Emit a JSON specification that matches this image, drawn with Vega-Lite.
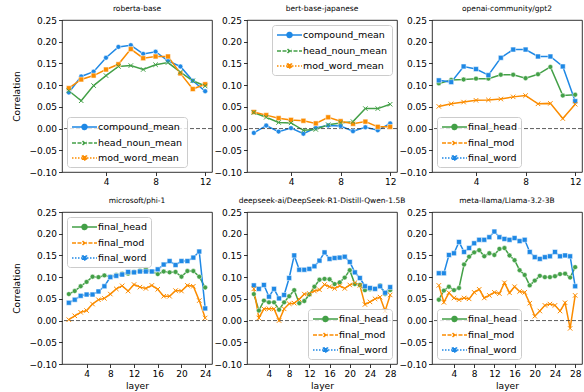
{
"$schema": "https://vega.github.io/schema/vega-lite/v6.json",
"padding": {"left": 12, "top": 4, "right": 2, "bottom": 0},
"background": "white",
"config": {
  "font": "DejaVu Sans",
  "view": {"stroke": "#000", "strokeWidth": 0.8},
  "axis": {"grid": false, "domain": false, "tickColor": "#000", "tickSize": 3.5, "tickWidth": 0.8, "labelFontSize": 9, "labelColor": "#000", "labelFont": "DejaVu Sans", "titleFont": "DejaVu Sans", "titleFontSize": 9.2, "titleFontWeight": "normal", "titleColor": "#000", "labelPadding": 2, "labelOverlap": false, "labelSeparation": -50, "labelFlush": false, "labelBound": false},
  "axisY": {"titlePadding": 7},
  "axisX": {"titlePadding": 3},
  "title": {"fontSize": 7.5, "fontWeight": "normal", "font": "DejaVu Sans", "offset": 4, "color": "#000", "frame": "group", "anchor": "middle"},
  "legend": {"title": null, "labelFontSize": 9.5, "labelFont": "DejaVu Sans", "labelColor": "#000", "fillColor": "rgba(255,255,255,0.8)", "strokeColor": "#cccccc", "cornerRadius": 3, "padding": 4, "offset": 5, "rowPadding": 4, "symbolSize": 100, "labelOffset": 15, "symbolStrokeWidth": 1.5, "symbolOpacity": 1,
    "symbolType": "circle"}
},
"columns": 3,
"spacing": {"row": 40, "column": 35},
"bounds": "flush",
"resolve": {"scale": {"color": "independent", "strokeDash": "independent", "shape": "independent"}, "legend": {"color": "independent"}},
"datasets": {
"roberta": [
{"s":"compound_mean","l":1,"v":0.083},{"s":"compound_mean","l":2,"v":0.120},{"s":"compound_mean","l":3,"v":0.131},{"s":"compound_mean","l":4,"v":0.163},{"s":"compound_mean","l":5,"v":0.188},{"s":"compound_mean","l":6,"v":0.192},{"s":"compound_mean","l":7,"v":0.172},{"s":"compound_mean","l":8,"v":0.177},{"s":"compound_mean","l":9,"v":0.156},{"s":"compound_mean","l":10,"v":0.143},{"s":"compound_mean","l":11,"v":0.110},{"s":"compound_mean","l":12,"v":0.086},
{"s":"head_noun_mean","l":1,"v":0.087},{"s":"head_noun_mean","l":2,"v":0.064},{"s":"head_noun_mean","l":3,"v":0.099},{"s":"head_noun_mean","l":4,"v":0.122},{"s":"head_noun_mean","l":5,"v":0.143},{"s":"head_noun_mean","l":6,"v":0.145},{"s":"head_noun_mean","l":7,"v":0.136},{"s":"head_noun_mean","l":8,"v":0.147},{"s":"head_noun_mean","l":9,"v":0.152},{"s":"head_noun_mean","l":10,"v":0.130},{"s":"head_noun_mean","l":11,"v":0.110},{"s":"head_noun_mean","l":12,"v":0.098},
{"s":"mod_word_mean","l":1,"v":0.093},{"s":"mod_word_mean","l":2,"v":0.113},{"s":"mod_word_mean","l":3,"v":0.122},{"s":"mod_word_mean","l":4,"v":0.136},{"s":"mod_word_mean","l":5,"v":0.148},{"s":"mod_word_mean","l":6,"v":0.183},{"s":"mod_word_mean","l":7,"v":0.162},{"s":"mod_word_mean","l":8,"v":0.166},{"s":"mod_word_mean","l":9,"v":0.166},{"s":"mod_word_mean","l":10,"v":0.127},{"s":"mod_word_mean","l":11,"v":0.091},{"s":"mod_word_mean","l":12,"v":0.102}
],
"bert": [
{"s":"compound_mean","l":1,"v":-0.010},{"s":"compound_mean","l":2,"v":0.007},{"s":"compound_mean","l":3,"v":-0.007},{"s":"compound_mean","l":4,"v":0.001},{"s":"compound_mean","l":5,"v":-0.012},{"s":"compound_mean","l":6,"v":0.002},{"s":"compound_mean","l":7,"v":0.007},{"s":"compound_mean","l":8,"v":0.006},{"s":"compound_mean","l":9,"v":-0.006},{"s":"compound_mean","l":10,"v":0.003},{"s":"compound_mean","l":11,"v":-0.004},{"s":"compound_mean","l":12,"v":0.012},
{"s":"head_noun_mean","l":1,"v":0.037},{"s":"head_noun_mean","l":2,"v":0.026},{"s":"head_noun_mean","l":3,"v":0.014},{"s":"head_noun_mean","l":4,"v":0.013},{"s":"head_noun_mean","l":5,"v":-0.004},{"s":"head_noun_mean","l":6,"v":-0.002},{"s":"head_noun_mean","l":7,"v":0.009},{"s":"head_noun_mean","l":8,"v":0.013},{"s":"head_noun_mean","l":9,"v":0.016},{"s":"head_noun_mean","l":10,"v":0.046},{"s":"head_noun_mean","l":11,"v":0.046},{"s":"head_noun_mean","l":12,"v":0.056},
{"s":"mod_word_mean","l":1,"v":0.038},{"s":"mod_word_mean","l":2,"v":0.031},{"s":"mod_word_mean","l":3,"v":0.024},{"s":"mod_word_mean","l":4,"v":0.020},{"s":"mod_word_mean","l":5,"v":0.018},{"s":"mod_word_mean","l":6,"v":0.012},{"s":"mod_word_mean","l":7,"v":0.026},{"s":"mod_word_mean","l":8,"v":0.017},{"s":"mod_word_mean","l":9,"v":0.011},{"s":"mod_word_mean","l":10,"v":0.016},{"s":"mod_word_mean","l":11,"v":0.004},{"s":"mod_word_mean","l":12,"v":0.004}
],
"gpt2": [
{"s":"final_head","l":1,"v":0.104},{"s":"final_head","l":2,"v":0.112},{"s":"final_head","l":3,"v":0.113},{"s":"final_head","l":4,"v":0.115},{"s":"final_head","l":5,"v":0.115},{"s":"final_head","l":6,"v":0.124},{"s":"final_head","l":7,"v":0.124},{"s":"final_head","l":8,"v":0.116},{"s":"final_head","l":9,"v":0.125},{"s":"final_head","l":10,"v":0.142},{"s":"final_head","l":11,"v":0.076},{"s":"final_head","l":12,"v":0.078},
{"s":"final_mod","l":1,"v":0.051},{"s":"final_mod","l":2,"v":0.057},{"s":"final_mod","l":3,"v":0.061},{"s":"final_mod","l":4,"v":0.065},{"s":"final_mod","l":5,"v":0.066},{"s":"final_mod","l":6,"v":0.068},{"s":"final_mod","l":7,"v":0.073},{"s":"final_mod","l":8,"v":0.076},{"s":"final_mod","l":9,"v":0.057},{"s":"final_mod","l":10,"v":0.058},{"s":"final_mod","l":11,"v":0.023},{"s":"final_mod","l":12,"v":0.056},
{"s":"final_word","l":1,"v":0.111},{"s":"final_word","l":2,"v":0.107},{"s":"final_word","l":3,"v":0.143},{"s":"final_word","l":4,"v":0.137},{"s":"final_word","l":5,"v":0.123},{"s":"final_word","l":6,"v":0.163},{"s":"final_word","l":7,"v":0.182},{"s":"final_word","l":8,"v":0.182},{"s":"final_word","l":9,"v":0.166},{"s":"final_word","l":10,"v":0.166},{"s":"final_word","l":11,"v":0.143},{"s":"final_word","l":12,"v":0.063}
],
"phi": [
{"s":"final_head","l":1,"v":0.061},{"s":"final_head","l":2,"v":0.068},{"s":"final_head","l":3,"v":0.079},{"s":"final_head","l":4,"v":0.089},{"s":"final_head","l":5,"v":0.101},{"s":"final_head","l":6,"v":0.100},{"s":"final_head","l":7,"v":0.104},{"s":"final_head","l":8,"v":0.101},{"s":"final_head","l":9,"v":0.105},{"s":"final_head","l":10,"v":0.108},{"s":"final_head","l":11,"v":0.108},{"s":"final_head","l":12,"v":0.112},{"s":"final_head","l":13,"v":0.115},{"s":"final_head","l":14,"v":0.119},{"s":"final_head","l":15,"v":0.113},{"s":"final_head","l":16,"v":0.107},{"s":"final_head","l":17,"v":0.113},{"s":"final_head","l":18,"v":0.111},{"s":"final_head","l":19,"v":0.112},{"s":"final_head","l":20,"v":0.101},{"s":"final_head","l":21,"v":0.114},{"s":"final_head","l":22,"v":0.114},{"s":"final_head","l":23,"v":0.101},{"s":"final_head","l":24,"v":0.076},
{"s":"final_mod","l":1,"v":0.002},{"s":"final_mod","l":2,"v":0.011},{"s":"final_mod","l":3,"v":0.019},{"s":"final_mod","l":4,"v":0.023},{"s":"final_mod","l":5,"v":0.038},{"s":"final_mod","l":6,"v":0.048},{"s":"final_mod","l":7,"v":0.051},{"s":"final_mod","l":8,"v":0.061},{"s":"final_mod","l":9,"v":0.073},{"s":"final_mod","l":10,"v":0.080},{"s":"final_mod","l":11,"v":0.068},{"s":"final_mod","l":12,"v":0.083},{"s":"final_mod","l":13,"v":0.077},{"s":"final_mod","l":14,"v":0.074},{"s":"final_mod","l":15,"v":0.081},{"s":"final_mod","l":16,"v":0.072},{"s":"final_mod","l":17,"v":0.056},{"s":"final_mod","l":18,"v":0.056},{"s":"final_mod","l":19,"v":0.069},{"s":"final_mod","l":20,"v":0.068},{"s":"final_mod","l":21,"v":0.081},{"s":"final_mod","l":22,"v":0.079},{"s":"final_mod","l":23,"v":0.046},{"s":"final_mod","l":24,"v":0.006},
{"s":"final_word","l":1,"v":0.041},{"s":"final_word","l":2,"v":0.048},{"s":"final_word","l":3,"v":0.057},{"s":"final_word","l":4,"v":0.060},{"s":"final_word","l":5,"v":0.060},{"s":"final_word","l":6,"v":0.067},{"s":"final_word","l":7,"v":0.079},{"s":"final_word","l":8,"v":0.100},{"s":"final_word","l":9,"v":0.103},{"s":"final_word","l":10,"v":0.106},{"s":"final_word","l":11,"v":0.112},{"s":"final_word","l":12,"v":0.111},{"s":"final_word","l":13,"v":0.113},{"s":"final_word","l":14,"v":0.113},{"s":"final_word","l":15,"v":0.113},{"s":"final_word","l":16,"v":0.118},{"s":"final_word","l":17,"v":0.129},{"s":"final_word","l":18,"v":0.137},{"s":"final_word","l":19,"v":0.128},{"s":"final_word","l":20,"v":0.137},{"s":"final_word","l":21,"v":0.137},{"s":"final_word","l":22,"v":0.145},{"s":"final_word","l":23,"v":0.159},{"s":"final_word","l":24,"v":0.028}
],
"deepseek": [
{"s":"final_head","l":1,"v":0.061},{"s":"final_head","l":2,"v":0.023},{"s":"final_head","l":3,"v":0.046},{"s":"final_head","l":4,"v":0.042},{"s":"final_head","l":5,"v":0.042},{"s":"final_head","l":6,"v":0.025},{"s":"final_head","l":7,"v":0.042},{"s":"final_head","l":8,"v":0.056},{"s":"final_head","l":9,"v":0.070},{"s":"final_head","l":10,"v":0.040},{"s":"final_head","l":11,"v":0.045},{"s":"final_head","l":12,"v":0.060},{"s":"final_head","l":13,"v":0.078},{"s":"final_head","l":14,"v":0.094},{"s":"final_head","l":15,"v":0.096},{"s":"final_head","l":16,"v":0.095},{"s":"final_head","l":17,"v":0.084},{"s":"final_head","l":18,"v":0.088},{"s":"final_head","l":19,"v":0.099},{"s":"final_head","l":20,"v":0.116},{"s":"final_head","l":21,"v":0.084},{"s":"final_head","l":22,"v":0.082},{"s":"final_head","l":23,"v":0.070},{"s":"final_head","l":24,"v":0.072},{"s":"final_head","l":25,"v":0.073},{"s":"final_head","l":26,"v":0.081},{"s":"final_head","l":27,"v":0.061},{"s":"final_head","l":28,"v":0.070},
{"s":"final_mod","l":1,"v":0.073},{"s":"final_mod","l":2,"v":0.006},{"s":"final_mod","l":3,"v":0.027},{"s":"final_mod","l":4,"v":0.027},{"s":"final_mod","l":5,"v":0.027},{"s":"final_mod","l":6,"v":0.000},{"s":"final_mod","l":7,"v":0.027},{"s":"final_mod","l":8,"v":0.039},{"s":"final_mod","l":9,"v":0.040},{"s":"final_mod","l":10,"v":0.049},{"s":"final_mod","l":11,"v":0.061},{"s":"final_mod","l":12,"v":0.062},{"s":"final_mod","l":13,"v":0.068},{"s":"final_mod","l":14,"v":0.071},{"s":"final_mod","l":15,"v":0.083},{"s":"final_mod","l":16,"v":0.078},{"s":"final_mod","l":17,"v":0.074},{"s":"final_mod","l":18,"v":0.080},{"s":"final_mod","l":19,"v":0.074},{"s":"final_mod","l":20,"v":0.082},{"s":"final_mod","l":21,"v":0.087},{"s":"final_mod","l":22,"v":0.081},{"s":"final_mod","l":23,"v":0.037},{"s":"final_mod","l":24,"v":0.043},{"s":"final_mod","l":25,"v":0.050},{"s":"final_mod","l":26,"v":0.054},{"s":"final_mod","l":27,"v":0.022},{"s":"final_mod","l":28,"v":0.059},
{"s":"final_word","l":1,"v":0.081},{"s":"final_word","l":2,"v":0.073},{"s":"final_word","l":3,"v":0.082},{"s":"final_word","l":4,"v":0.055},{"s":"final_word","l":5,"v":0.073},{"s":"final_word","l":6,"v":0.051},{"s":"final_word","l":7,"v":0.059},{"s":"final_word","l":8,"v":0.098},{"s":"final_word","l":9,"v":0.150},{"s":"final_word","l":10,"v":0.117},{"s":"final_word","l":11,"v":0.117},{"s":"final_word","l":12,"v":0.119},{"s":"final_word","l":13,"v":0.125},{"s":"final_word","l":14,"v":0.138},{"s":"final_word","l":15,"v":0.157},{"s":"final_word","l":16,"v":0.142},{"s":"final_word","l":17,"v":0.144},{"s":"final_word","l":18,"v":0.145},{"s":"final_word","l":19,"v":0.147},{"s":"final_word","l":20,"v":0.135},{"s":"final_word","l":21,"v":0.111},{"s":"final_word","l":22,"v":0.098},{"s":"final_word","l":23,"v":0.079},{"s":"final_word","l":24,"v":0.075},{"s":"final_word","l":25,"v":0.073},{"s":"final_word","l":26,"v":0.079},{"s":"final_word","l":27,"v":0.064},{"s":"final_word","l":28,"v":0.077}
],
"llama": [
{"s":"final_head","l":1,"v":0.048},{"s":"final_head","l":2,"v":0.069},{"s":"final_head","l":3,"v":0.078},{"s":"final_head","l":4,"v":0.070},{"s":"final_head","l":5,"v":0.075},{"s":"final_head","l":6,"v":0.129},{"s":"final_head","l":7,"v":0.147},{"s":"final_head","l":8,"v":0.157},{"s":"final_head","l":9,"v":0.162},{"s":"final_head","l":10,"v":0.148},{"s":"final_head","l":11,"v":0.155},{"s":"final_head","l":12,"v":0.151},{"s":"final_head","l":13,"v":0.165},{"s":"final_head","l":14,"v":0.167},{"s":"final_head","l":15,"v":0.150},{"s":"final_head","l":16,"v":0.139},{"s":"final_head","l":17,"v":0.116},{"s":"final_head","l":18,"v":0.105},{"s":"final_head","l":19,"v":0.081},{"s":"final_head","l":20,"v":0.092},{"s":"final_head","l":21,"v":0.103},{"s":"final_head","l":22,"v":0.100},{"s":"final_head","l":23,"v":0.100},{"s":"final_head","l":24,"v":0.102},{"s":"final_head","l":25,"v":0.107},{"s":"final_head","l":26,"v":0.108},{"s":"final_head","l":27,"v":0.099},{"s":"final_head","l":28,"v":0.123},
{"s":"final_mod","l":1,"v":0.081},{"s":"final_mod","l":2,"v":0.042},{"s":"final_mod","l":3,"v":0.064},{"s":"final_mod","l":4,"v":0.052},{"s":"final_mod","l":5,"v":0.048},{"s":"final_mod","l":6,"v":0.052},{"s":"final_mod","l":7,"v":0.050},{"s":"final_mod","l":8,"v":0.065},{"s":"final_mod","l":9,"v":0.072},{"s":"final_mod","l":10,"v":0.052},{"s":"final_mod","l":11,"v":0.058},{"s":"final_mod","l":12,"v":0.065},{"s":"final_mod","l":13,"v":0.062},{"s":"final_mod","l":14,"v":0.087},{"s":"final_mod","l":15,"v":0.064},{"s":"final_mod","l":16,"v":0.078},{"s":"final_mod","l":17,"v":0.067},{"s":"final_mod","l":18,"v":0.065},{"s":"final_mod","l":19,"v":0.040},{"s":"final_mod","l":20,"v":0.010},{"s":"final_mod","l":21,"v":0.022},{"s":"final_mod","l":22,"v":0.035},{"s":"final_mod","l":23,"v":0.038},{"s":"final_mod","l":24,"v":0.035},{"s":"final_mod","l":25,"v":0.022},{"s":"final_mod","l":26,"v":0.041},{"s":"final_mod","l":27,"v":-0.018},{"s":"final_mod","l":28,"v":0.058},
{"s":"final_word","l":1,"v":0.109},{"s":"final_word","l":2,"v":0.109},{"s":"final_word","l":3,"v":0.151},{"s":"final_word","l":4,"v":0.155},{"s":"final_word","l":5,"v":0.181},{"s":"final_word","l":6,"v":0.158},{"s":"final_word","l":7,"v":0.167},{"s":"final_word","l":8,"v":0.178},{"s":"final_word","l":9,"v":0.186},{"s":"final_word","l":10,"v":0.186},{"s":"final_word","l":11,"v":0.192},{"s":"final_word","l":12,"v":0.205},{"s":"final_word","l":13,"v":0.192},{"s":"final_word","l":14,"v":0.188},{"s":"final_word","l":15,"v":0.186},{"s":"final_word","l":16,"v":0.190},{"s":"final_word","l":17,"v":0.183},{"s":"final_word","l":18,"v":0.186},{"s":"final_word","l":19,"v":0.158},{"s":"final_word","l":20,"v":0.146},{"s":"final_word","l":21,"v":0.142},{"s":"final_word","l":22,"v":0.146},{"s":"final_word","l":23,"v":0.148},{"s":"final_word","l":24,"v":0.158},{"s":"final_word","l":25,"v":0.148},{"s":"final_word","l":26,"v":0.150},{"s":"final_word","l":27,"v":0.148},{"s":"final_word","l":28,"v":0.079}
]
},
"concat": [
{"title": "roberta-base", "width": 150, "height": 152, "data": {"name": "roberta"},
 "layer": [
  {"mark": {"type": "line", "strokeWidth": 1.5},
   "encoding": {
    "x": {"field": "l", "type": "quantitative", "scale": {"domain": [0.45, 12.55], "nice": false, "zero": false}, "axis": {"values": [4, 8, 12], "tickCount": 3, "title": null, "labelOverlap": false}},
    "y": {"field": "v", "type": "quantitative", "scale": {"domain": [-0.1, 0.25], "nice": false, "zero": false}, "axis": {"values": [-0.1, -0.05, 0, 0.05, 0.1, 0.15, 0.2, 0.25], "tickCount": 8, "format": ".2f", "title": "Correlation", "labelOverlap": false}},
    "color": {"field": "s", "type": "nominal", "scale": {"domain": ["compound_mean", "head_noun_mean", "mod_word_mean"], "range": ["#1E88E5", "#43A047", "#FB8C00"]},
      "legend": {"orient": "bottom-left", "encode": {"symbols": {"update": {
        "shape": {"signal": "indexof(['compound_mean','final_head'], datum.value) >= 0 ? 'M-1,0L4,0M1,0A0.5,0.5,0,1,0,2,0A0.5,0.5,0,1,0,1,0Z' : (indexof(['head_noun_mean','final_mod'], datum.value) >= 0 ? 'M-1,0L4,0M1.1,-0.4L1.9,0.4M1.1,0.4L1.9,-0.4' : 'M-1,0L4,0M1.1,-0.4L1.9,-0.4L1.9,0.4L1.1,0.4Z')"},
        "stroke": {"signal": "{'compound_mean':'#1E88E5','head_noun_mean':'#43A047','mod_word_mean':'#FB8C00','final_head':'#43A047','final_mod':'#FB8C00','final_word':'#1E88E5'}[datum.value]"},
        "fill": {"signal": "indexof(['head_noun_mean','final_mod'], datum.value) >= 0 ? 'transparent' : {'compound_mean':'#1E88E5','mod_word_mean':'#FB8C00','final_head':'#43A047','final_word':'#1E88E5'}[datum.value]"},
        "strokeDash": {"signal": "indexof(['compound_mean','final_head'], datum.value) >= 0 ? [1,0] : (indexof(['head_noun_mean','final_mod'], datum.value) >= 0 ? [4,1.5] : [1.5,1.5])"},
        "size": {"value": 100}, "opacity": {"value": 1}, "strokeWidth": {"value": 1.5}}}}}}
   }},
  {"data": {"values": [{}]}, "mark": {"type": "rule", "color": "#333", "strokeDash": [4, 2], "strokeWidth": 0.8}, "encoding": {"y": {"datum": 0, "type": "quantitative", "axis": {"values": [-0.1, -0.05, 0, 0.05, 0.1, 0.15, 0.2, 0.25], "tickCount": 8, "format": ".2f", "title": "Correlation", "labelOverlap": false}}}},
  {"transform": [{"filter": "datum.s != 'head_noun_mean'"}], "mark": {"type": "point", "filled": true, "stroke": "white", "strokeWidth": 0.5, "size": 24, "opacity": 1},
   "encoding": {"x": {"field": "l", "type": "quantitative"}, "y": {"field": "v", "type": "quantitative"},
    "color": {"field": "s", "type": "nominal", "legend": null},
    "shape": {"field": "s", "type": "nominal", "scale": {"domain": ["compound_mean", "mod_word_mean"], "range": ["circle", "square"]}, "legend": null}}},
  {"transform": [{"filter": "datum.s == 'head_noun_mean'"}], "mark": {"type": "point", "shape": "M-1,-1L1,1M-1,1L1,-1", "filled": false, "strokeWidth": 1, "size": 20, "opacity": 1},
   "encoding": {"x": {"field": "l", "type": "quantitative"}, "y": {"field": "v", "type": "quantitative"}, "color": {"field": "s", "type": "nominal", "legend": null}}}
 ]},
{"title": "bert-base-japanese", "width": 150, "height": 152, "data": {"name": "bert"},
 "layer": [
  {"mark": {"type": "line", "strokeWidth": 1.5},
   "encoding": {
    "x": {"field": "l", "type": "quantitative", "scale": {"domain": [0.45, 12.55], "nice": false, "zero": false}, "axis": {"values": [4, 8, 12], "tickCount": 3, "title": null, "labelOverlap": false}},
    "y": {"field": "v", "type": "quantitative", "scale": {"domain": [-0.1, 0.25], "nice": false, "zero": false}, "axis": {"values": [-0.1, -0.05, 0, 0.05, 0.1, 0.15, 0.2, 0.25], "tickCount": 8, "format": ".2f", "title": null, "labelOverlap": false}},
    "color": {"field": "s", "type": "nominal", "scale": {"domain": ["compound_mean", "head_noun_mean", "mod_word_mean"], "range": ["#1E88E5", "#43A047", "#FB8C00"]},
      "legend": {"orient": "top-right", "encode": {"symbols": {"update": {
        "shape": {"signal": "indexof(['compound_mean','final_head'], datum.value) >= 0 ? 'M-1,0L4,0M1,0A0.5,0.5,0,1,0,2,0A0.5,0.5,0,1,0,1,0Z' : (indexof(['head_noun_mean','final_mod'], datum.value) >= 0 ? 'M-1,0L4,0M1.1,-0.4L1.9,0.4M1.1,0.4L1.9,-0.4' : 'M-1,0L4,0M1.1,-0.4L1.9,-0.4L1.9,0.4L1.1,0.4Z')"},
        "stroke": {"signal": "{'compound_mean':'#1E88E5','head_noun_mean':'#43A047','mod_word_mean':'#FB8C00','final_head':'#43A047','final_mod':'#FB8C00','final_word':'#1E88E5'}[datum.value]"},
        "fill": {"signal": "indexof(['head_noun_mean','final_mod'], datum.value) >= 0 ? 'transparent' : {'compound_mean':'#1E88E5','mod_word_mean':'#FB8C00','final_head':'#43A047','final_word':'#1E88E5'}[datum.value]"},
        "strokeDash": {"signal": "indexof(['compound_mean','final_head'], datum.value) >= 0 ? [1,0] : (indexof(['head_noun_mean','final_mod'], datum.value) >= 0 ? [4,1.5] : [1.5,1.5])"},
        "size": {"value": 100}, "opacity": {"value": 1}, "strokeWidth": {"value": 1.5}}}}}}
   }},
  {"data": {"values": [{}]}, "mark": {"type": "rule", "color": "#333", "strokeDash": [4, 2], "strokeWidth": 0.8}, "encoding": {"y": {"datum": 0, "type": "quantitative", "axis": {"values": [-0.1, -0.05, 0, 0.05, 0.1, 0.15, 0.2, 0.25], "tickCount": 8, "format": ".2f", "title": null, "labelOverlap": false}}}},
  {"transform": [{"filter": "datum.s != 'head_noun_mean'"}], "mark": {"type": "point", "filled": true, "stroke": "white", "strokeWidth": 0.5, "size": 24, "opacity": 1},
   "encoding": {"x": {"field": "l", "type": "quantitative"}, "y": {"field": "v", "type": "quantitative"},
    "color": {"field": "s", "type": "nominal", "legend": null},
    "shape": {"field": "s", "type": "nominal", "scale": {"domain": ["compound_mean", "mod_word_mean"], "range": ["circle", "square"]}, "legend": null}}},
  {"transform": [{"filter": "datum.s == 'head_noun_mean'"}], "mark": {"type": "point", "shape": "M-1,-1L1,1M-1,1L1,-1", "filled": false, "strokeWidth": 1, "size": 20, "opacity": 1},
   "encoding": {"x": {"field": "l", "type": "quantitative"}, "y": {"field": "v", "type": "quantitative"}, "color": {"field": "s", "type": "nominal", "legend": null}}}
 ]},
{"title": "openai-community/gpt2", "width": 150, "height": 152, "data": {"name": "gpt2"},
 "layer": [
  {"mark": {"type": "line", "strokeWidth": 1.5},
   "encoding": {
    "x": {"field": "l", "type": "quantitative", "scale": {"domain": [0.45, 12.55], "nice": false, "zero": false}, "axis": {"values": [4, 8, 12], "tickCount": 3, "title": null, "labelOverlap": false}},
    "y": {"field": "v", "type": "quantitative", "scale": {"domain": [-0.1, 0.25], "nice": false, "zero": false}, "axis": {"values": [-0.1, -0.05, 0, 0.05, 0.1, 0.15, 0.2, 0.25], "tickCount": 8, "format": ".2f", "title": null, "labelOverlap": false}},
    "color": {"field": "s", "type": "nominal", "scale": {"domain": ["final_head", "final_mod", "final_word"], "range": ["#43A047", "#FB8C00", "#1E88E5"]},
      "legend": {"orient": "bottom-left", "encode": {"symbols": {"update": {
        "shape": {"signal": "indexof(['compound_mean','final_head'], datum.value) >= 0 ? 'M-1,0L4,0M1,0A0.5,0.5,0,1,0,2,0A0.5,0.5,0,1,0,1,0Z' : (indexof(['head_noun_mean','final_mod'], datum.value) >= 0 ? 'M-1,0L4,0M1.1,-0.4L1.9,0.4M1.1,0.4L1.9,-0.4' : 'M-1,0L4,0M1.1,-0.4L1.9,-0.4L1.9,0.4L1.1,0.4Z')"},
        "stroke": {"signal": "{'compound_mean':'#1E88E5','head_noun_mean':'#43A047','mod_word_mean':'#FB8C00','final_head':'#43A047','final_mod':'#FB8C00','final_word':'#1E88E5'}[datum.value]"},
        "fill": {"signal": "indexof(['head_noun_mean','final_mod'], datum.value) >= 0 ? 'transparent' : {'compound_mean':'#1E88E5','mod_word_mean':'#FB8C00','final_head':'#43A047','final_word':'#1E88E5'}[datum.value]"},
        "strokeDash": {"signal": "indexof(['compound_mean','final_head'], datum.value) >= 0 ? [1,0] : (indexof(['head_noun_mean','final_mod'], datum.value) >= 0 ? [4,1.5] : [1.5,1.5])"},
        "size": {"value": 100}, "opacity": {"value": 1}, "strokeWidth": {"value": 1.5}}}}}}
   }},
  {"data": {"values": [{}]}, "mark": {"type": "rule", "color": "#333", "strokeDash": [4, 2], "strokeWidth": 0.8}, "encoding": {"y": {"datum": 0, "type": "quantitative", "axis": {"values": [-0.1, -0.05, 0, 0.05, 0.1, 0.15, 0.2, 0.25], "tickCount": 8, "format": ".2f", "title": null, "labelOverlap": false}}}},
  {"transform": [{"filter": "datum.s != 'final_mod'"}], "mark": {"type": "point", "filled": true, "stroke": "white", "strokeWidth": 0.5, "size": 24, "opacity": 1},
   "encoding": {"x": {"field": "l", "type": "quantitative"}, "y": {"field": "v", "type": "quantitative"},
    "color": {"field": "s", "type": "nominal", "legend": null},
    "shape": {"field": "s", "type": "nominal", "scale": {"domain": ["final_head", "final_word"], "range": ["circle", "square"]}, "legend": null}}},
  {"transform": [{"filter": "datum.s == 'final_mod'"}], "mark": {"type": "point", "shape": "M-1,-1L1,1M-1,1L1,-1", "filled": false, "strokeWidth": 1, "size": 20, "opacity": 1},
   "encoding": {"x": {"field": "l", "type": "quantitative"}, "y": {"field": "v", "type": "quantitative"}, "color": {"field": "s", "type": "nominal", "legend": null}}}
 ]},
{"title": "microsoft/phi-1", "width": 150, "height": 152, "data": {"name": "phi"},
 "layer": [
  {"mark": {"type": "line", "strokeWidth": 1.5},
   "encoding": {
    "x": {"field": "l", "type": "quantitative", "scale": {"domain": [-0.15, 25.15], "nice": false, "zero": false}, "axis": {"values": [4, 8, 12, 16, 20, 24], "tickCount": 6, "title": "layer", "labelOverlap": false}},
    "y": {"field": "v", "type": "quantitative", "scale": {"domain": [-0.1, 0.25], "nice": false, "zero": false}, "axis": {"values": [-0.1, -0.05, 0, 0.05, 0.1, 0.15, 0.2, 0.25], "tickCount": 8, "format": ".2f", "title": "Correlation", "labelOverlap": false}},
    "color": {"field": "s", "type": "nominal", "scale": {"domain": ["final_head", "final_mod", "final_word"], "range": ["#43A047", "#FB8C00", "#1E88E5"]},
      "legend": {"orient": "top-left", "encode": {"symbols": {"update": {
        "shape": {"signal": "indexof(['compound_mean','final_head'], datum.value) >= 0 ? 'M-1,0L4,0M1,0A0.5,0.5,0,1,0,2,0A0.5,0.5,0,1,0,1,0Z' : (indexof(['head_noun_mean','final_mod'], datum.value) >= 0 ? 'M-1,0L4,0M1.1,-0.4L1.9,0.4M1.1,0.4L1.9,-0.4' : 'M-1,0L4,0M1.1,-0.4L1.9,-0.4L1.9,0.4L1.1,0.4Z')"},
        "stroke": {"signal": "{'compound_mean':'#1E88E5','head_noun_mean':'#43A047','mod_word_mean':'#FB8C00','final_head':'#43A047','final_mod':'#FB8C00','final_word':'#1E88E5'}[datum.value]"},
        "fill": {"signal": "indexof(['head_noun_mean','final_mod'], datum.value) >= 0 ? 'transparent' : {'compound_mean':'#1E88E5','mod_word_mean':'#FB8C00','final_head':'#43A047','final_word':'#1E88E5'}[datum.value]"},
        "strokeDash": {"signal": "indexof(['compound_mean','final_head'], datum.value) >= 0 ? [1,0] : (indexof(['head_noun_mean','final_mod'], datum.value) >= 0 ? [4,1.5] : [1.5,1.5])"},
        "size": {"value": 100}, "opacity": {"value": 1}, "strokeWidth": {"value": 1.5}}}}}}
   }},
  {"data": {"values": [{}]}, "mark": {"type": "rule", "color": "#333", "strokeDash": [4, 2], "strokeWidth": 0.8}, "encoding": {"y": {"datum": 0, "type": "quantitative", "axis": {"values": [-0.1, -0.05, 0, 0.05, 0.1, 0.15, 0.2, 0.25], "tickCount": 8, "format": ".2f", "title": "Correlation", "labelOverlap": false}}}},
  {"transform": [{"filter": "datum.s != 'final_mod'"}], "mark": {"type": "point", "filled": true, "stroke": "white", "strokeWidth": 0.5, "size": 24, "opacity": 1},
   "encoding": {"x": {"field": "l", "type": "quantitative"}, "y": {"field": "v", "type": "quantitative"},
    "color": {"field": "s", "type": "nominal", "legend": null},
    "shape": {"field": "s", "type": "nominal", "scale": {"domain": ["final_head", "final_word"], "range": ["circle", "square"]}, "legend": null}}},
  {"transform": [{"filter": "datum.s == 'final_mod'"}], "mark": {"type": "point", "shape": "M-1,-1L1,1M-1,1L1,-1", "filled": false, "strokeWidth": 1, "size": 20, "opacity": 1},
   "encoding": {"x": {"field": "l", "type": "quantitative"}, "y": {"field": "v", "type": "quantitative"}, "color": {"field": "s", "type": "nominal", "legend": null}}}
 ]},
{"title": "deepseek-ai/DeepSeek-R1-Distill-Qwen-1.5B", "width": 150, "height": 152, "data": {"name": "deepseek"},
 "layer": [
  {"mark": {"type": "line", "strokeWidth": 1.5},
   "encoding": {
    "x": {"field": "l", "type": "quantitative", "scale": {"domain": [-0.35, 29.35], "nice": false, "zero": false}, "axis": {"values": [4, 8, 12, 16, 20, 24, 28], "tickCount": 7, "title": "layer", "labelOverlap": false}},
    "y": {"field": "v", "type": "quantitative", "scale": {"domain": [-0.1, 0.25], "nice": false, "zero": false}, "axis": {"values": [-0.1, -0.05, 0, 0.05, 0.1, 0.15, 0.2, 0.25], "tickCount": 8, "format": ".2f", "title": null, "labelOverlap": false}},
    "color": {"field": "s", "type": "nominal", "scale": {"domain": ["final_head", "final_mod", "final_word"], "range": ["#43A047", "#FB8C00", "#1E88E5"]},
      "legend": {"orient": "bottom-right", "encode": {"symbols": {"update": {
        "shape": {"signal": "indexof(['compound_mean','final_head'], datum.value) >= 0 ? 'M-1,0L4,0M1,0A0.5,0.5,0,1,0,2,0A0.5,0.5,0,1,0,1,0Z' : (indexof(['head_noun_mean','final_mod'], datum.value) >= 0 ? 'M-1,0L4,0M1.1,-0.4L1.9,0.4M1.1,0.4L1.9,-0.4' : 'M-1,0L4,0M1.1,-0.4L1.9,-0.4L1.9,0.4L1.1,0.4Z')"},
        "stroke": {"signal": "{'compound_mean':'#1E88E5','head_noun_mean':'#43A047','mod_word_mean':'#FB8C00','final_head':'#43A047','final_mod':'#FB8C00','final_word':'#1E88E5'}[datum.value]"},
        "fill": {"signal": "indexof(['head_noun_mean','final_mod'], datum.value) >= 0 ? 'transparent' : {'compound_mean':'#1E88E5','mod_word_mean':'#FB8C00','final_head':'#43A047','final_word':'#1E88E5'}[datum.value]"},
        "strokeDash": {"signal": "indexof(['compound_mean','final_head'], datum.value) >= 0 ? [1,0] : (indexof(['head_noun_mean','final_mod'], datum.value) >= 0 ? [4,1.5] : [1.5,1.5])"},
        "size": {"value": 100}, "opacity": {"value": 1}, "strokeWidth": {"value": 1.5}}}}}}
   }},
  {"data": {"values": [{}]}, "mark": {"type": "rule", "color": "#333", "strokeDash": [4, 2], "strokeWidth": 0.8}, "encoding": {"y": {"datum": 0, "type": "quantitative", "axis": {"values": [-0.1, -0.05, 0, 0.05, 0.1, 0.15, 0.2, 0.25], "tickCount": 8, "format": ".2f", "title": null, "labelOverlap": false}}}},
  {"transform": [{"filter": "datum.s != 'final_mod'"}], "mark": {"type": "point", "filled": true, "stroke": "white", "strokeWidth": 0.5, "size": 24, "opacity": 1},
   "encoding": {"x": {"field": "l", "type": "quantitative"}, "y": {"field": "v", "type": "quantitative"},
    "color": {"field": "s", "type": "nominal", "legend": null},
    "shape": {"field": "s", "type": "nominal", "scale": {"domain": ["final_head", "final_word"], "range": ["circle", "square"]}, "legend": null}}},
  {"transform": [{"filter": "datum.s == 'final_mod'"}], "mark": {"type": "point", "shape": "M-1,-1L1,1M-1,1L1,-1", "filled": false, "strokeWidth": 1, "size": 20, "opacity": 1},
   "encoding": {"x": {"field": "l", "type": "quantitative"}, "y": {"field": "v", "type": "quantitative"}, "color": {"field": "s", "type": "nominal", "legend": null}}}
 ]},
{"title": "meta-llama/Llama-3.2-3B", "width": 150, "height": 152, "data": {"name": "llama"},
 "layer": [
  {"mark": {"type": "line", "strokeWidth": 1.5},
   "encoding": {
    "x": {"field": "l", "type": "quantitative", "scale": {"domain": [-0.35, 29.35], "nice": false, "zero": false}, "axis": {"values": [4, 8, 12, 16, 20, 24, 28], "tickCount": 7, "title": "layer", "labelOverlap": false}},
    "y": {"field": "v", "type": "quantitative", "scale": {"domain": [-0.1, 0.25], "nice": false, "zero": false}, "axis": {"values": [-0.1, -0.05, 0, 0.05, 0.1, 0.15, 0.2, 0.25], "tickCount": 8, "format": ".2f", "title": null, "labelOverlap": false}},
    "color": {"field": "s", "type": "nominal", "scale": {"domain": ["final_head", "final_mod", "final_word"], "range": ["#43A047", "#FB8C00", "#1E88E5"]},
      "legend": {"orient": "bottom-left", "encode": {"symbols": {"update": {
        "shape": {"signal": "indexof(['compound_mean','final_head'], datum.value) >= 0 ? 'M-1,0L4,0M1,0A0.5,0.5,0,1,0,2,0A0.5,0.5,0,1,0,1,0Z' : (indexof(['head_noun_mean','final_mod'], datum.value) >= 0 ? 'M-1,0L4,0M1.1,-0.4L1.9,0.4M1.1,0.4L1.9,-0.4' : 'M-1,0L4,0M1.1,-0.4L1.9,-0.4L1.9,0.4L1.1,0.4Z')"},
        "stroke": {"signal": "{'compound_mean':'#1E88E5','head_noun_mean':'#43A047','mod_word_mean':'#FB8C00','final_head':'#43A047','final_mod':'#FB8C00','final_word':'#1E88E5'}[datum.value]"},
        "fill": {"signal": "indexof(['head_noun_mean','final_mod'], datum.value) >= 0 ? 'transparent' : {'compound_mean':'#1E88E5','mod_word_mean':'#FB8C00','final_head':'#43A047','final_word':'#1E88E5'}[datum.value]"},
        "strokeDash": {"signal": "indexof(['compound_mean','final_head'], datum.value) >= 0 ? [1,0] : (indexof(['head_noun_mean','final_mod'], datum.value) >= 0 ? [4,1.5] : [1.5,1.5])"},
        "size": {"value": 100}, "opacity": {"value": 1}, "strokeWidth": {"value": 1.5}}}}}}
   }},
  {"data": {"values": [{}]}, "mark": {"type": "rule", "color": "#333", "strokeDash": [4, 2], "strokeWidth": 0.8}, "encoding": {"y": {"datum": 0, "type": "quantitative", "axis": {"values": [-0.1, -0.05, 0, 0.05, 0.1, 0.15, 0.2, 0.25], "tickCount": 8, "format": ".2f", "title": null, "labelOverlap": false}}}},
  {"transform": [{"filter": "datum.s != 'final_mod'"}], "mark": {"type": "point", "filled": true, "stroke": "white", "strokeWidth": 0.5, "size": 24, "opacity": 1},
   "encoding": {"x": {"field": "l", "type": "quantitative"}, "y": {"field": "v", "type": "quantitative"},
    "color": {"field": "s", "type": "nominal", "legend": null},
    "shape": {"field": "s", "type": "nominal", "scale": {"domain": ["final_head", "final_word"], "range": ["circle", "square"]}, "legend": null}}},
  {"transform": [{"filter": "datum.s == 'final_mod'"}], "mark": {"type": "point", "shape": "M-1,-1L1,1M-1,1L1,-1", "filled": false, "strokeWidth": 1, "size": 20, "opacity": 1},
   "encoding": {"x": {"field": "l", "type": "quantitative"}, "y": {"field": "v", "type": "quantitative"}, "color": {"field": "s", "type": "nominal", "legend": null}}}
 ]}
]
}
